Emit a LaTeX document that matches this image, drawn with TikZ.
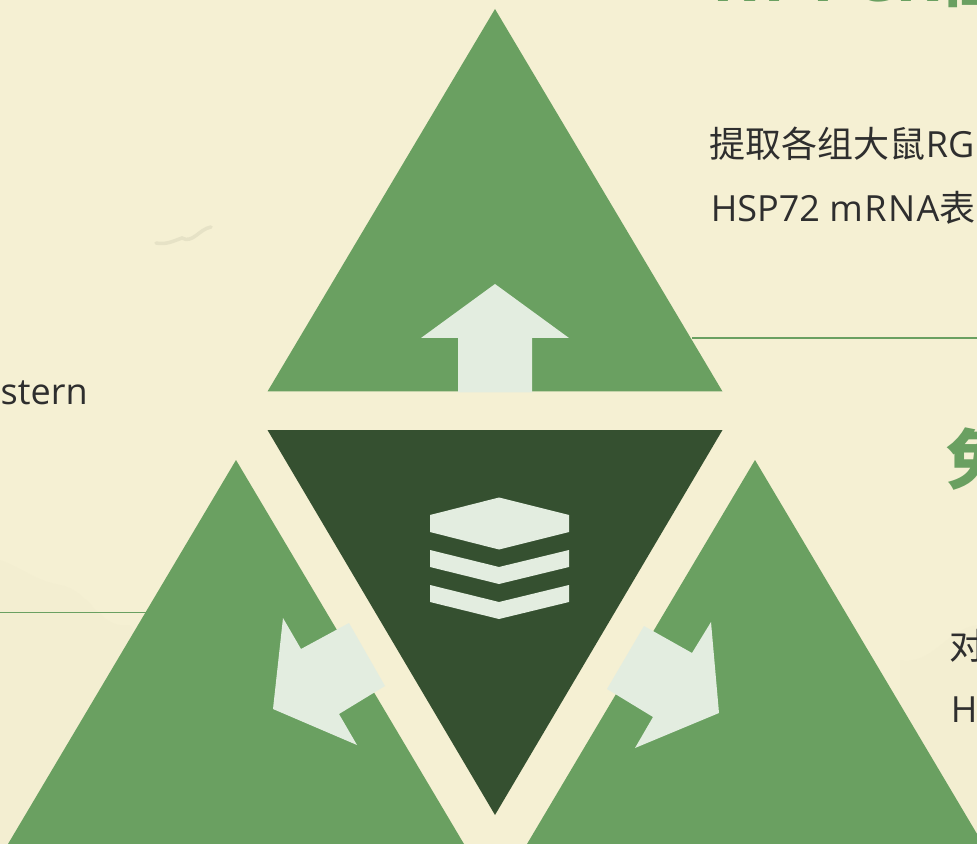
\documentclass[tikz,border=0pt]{standalone}
\usepackage{fontspec}
\setmainfont{Open Sans}
\newfontfamily\cjk{Noto Sans CJK SC}
\newfontfamily\cjkbold{Noto Sans CJK SC Bold}
\usepackage{tikz}
\definecolor{paper}{HTML}{F5F0D3}
\definecolor{wash}{HTML}{F3EED1}
\definecolor{leaf}{HTML}{6AA061}
\definecolor{pine}{HTML}{355030}
\definecolor{pale}{HTML}{E3EDE0}
\definecolor{ink}{HTML}{2E2E2E}
\tikzset{
    leaf_tri/.style={fill=leaf, draw=none},
    pine_tri/.style={fill=pine, draw=none},
    pale_shape/.style={fill=pale, draw=none},
    rule_line/.style={draw=leaf, line width=1.1pt},
    body_txt/.style={anchor=base west, inner sep=0pt, text=ink, font=\fontsize{20.5pt}{24pt}\selectfont},
    head_txt/.style={anchor=base west, inner sep=0pt, text=leaf, font=\fontsize{37.5pt}{40pt}\selectfont\bfseries},
}

\begin{document}
\begin{tikzpicture}[x=0.02cm, y=-0.02cm]
    \useasboundingbox (0,0) rectangle (977,844);
    \clip (0,0) rectangle (977,844);
    \fill [paper] (0,0) rectangle (977,844);

    % faint wash of the paper
    \fill [wash] (0,560) to [out=-20, in=170] (60,585) to [out=-10, in=190] (130,625) -- (260,844) -- (0,844) -- cycle;
    \fill [wash] (900,660) to [out=-10, in=190] (977,625) -- (977,844) -- (900,844) -- cycle;
    \draw [black!6!paper, line width=2pt, line cap=round] (156,243) to [out=-10, in=200] (182,238) to [out=-30, in=190] (211,227);

    \coordinate (rule_a) at (692,338);
    \coordinate (rule_a_end) at (977,338);
    \coordinate (rule_b) at (0,612.5);
    \coordinate (rule_b_end) at (146,612.5);
    \draw [rule_line] (rule_a) -- (rule_a_end);
    \draw [rule_line] (rule_b) -- (rule_b_end);

    \fill [leaf_tri] (495,9) -- (722.5,391.5) -- (267.5,391.5) -- cycle;
    \fill [leaf_tri] (236,460) -- (464,844) -- (8,844) -- cycle;
    \fill [leaf_tri] (755,460) -- (983,844) -- (527,844) -- cycle;
    \fill [pine_tri] (267.5,430) -- (722.5,430) -- (495,815) -- cycle;

    % arrows
    \fill [pale_shape] (495,284) -- (569,338) -- (532,338) -- (532,392.5) -- (458,392.5) -- (458,338) -- (421,338) -- cycle;
    \fill [pale_shape] (283,618) -- (301,649) -- (349,623) -- (385,686) -- (339,714) -- (357,745) -- (273,709) -- cycle;
    \fill [pale_shape] (711,622) -- (692,653) -- (644,626) -- (607,689) -- (653,717) -- (635,748) -- (719,713) -- cycle;

    % stack
    \fill [pale_shape] (499,497.5) -- (569,515) -- (569,532) -- (499,549.5) -- (430,532) -- (430,515) -- cycle;
    \foreach \dy in {0, 35} {
        \fill [pale_shape, shift={(0,\dy)}] (430,550) -- (499,567) -- (569,550) -- (569,567) -- (499,584) -- (430,567) -- cycle;
    }

    \node [head_txt] (head_top) at (712,2) {RT-PCR{\cjkbold 检}};
    \node [body_txt] (top_l1) at (709.5,158) {{\cjk 提取各组大鼠}RG};
    \node [body_txt] (top_l2) at (710.5,222) {HSP72 {\addfontfeature{LetterSpace=4}mRNA}{\cjk 表}};
    \node [head_txt] (head_right) at (946.5,484) {\cjkbold 免};
    \node [body_txt] (right_l1) at (949.5,659) {{\cjk 对}};
    \node [body_txt] (right_l2) at (950.5,722) {H};
    \node [body_txt, anchor=base east] (left_l1) at (88,404) {Western};
\end{tikzpicture}
\end{document}
